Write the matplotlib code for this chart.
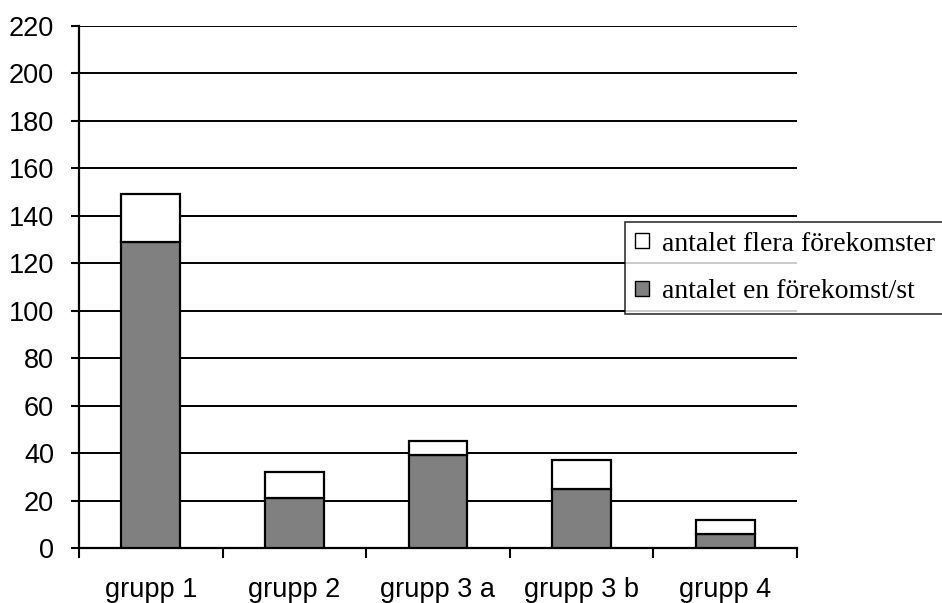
import matplotlib
matplotlib.use("Agg")
import matplotlib.pyplot as plt
from matplotlib.patches import Patch
from matplotlib.ticker import FixedLocator
import numpy as np

categories = ["grupp 1", "grupp 2", "grupp 3 a", "grupp 3 b", "grupp 4"]
en_forekomst = [129, 21, 39, 25, 6]
flera_forekomster = [20, 11, 6, 12, 6]
yticks = list(range(0, 221, 20))

fig = plt.figure(figsize=(9.42, 6.03), dpi=100)
W, H = 942, 603
ax = fig.add_axes([79 / W, 1 - 548 / H, (797 - 79) / W, (548 - 26) / H])

x = np.arange(len(categories))
bw = 0.41
ax.bar(x, en_forekomst, bw, color="#808080", edgecolor="black", linewidth=1.6, zorder=3)
ax.bar(x, flera_forekomster, bw, bottom=en_forekomst, color="white", edgecolor="black",
       linewidth=1.6, zorder=3)

ax.set_xlim(-0.5, len(categories) - 0.5)
ax.set_ylim(0, 220)
ax.set_yticks(yticks)
ax.set_xticks(x)
ax.set_xticklabels(categories, fontfamily="Liberation Sans", fontsize=19.5)
ax.xaxis.set_minor_locator(FixedLocator(np.arange(-0.5, len(categories), 1.0)))
ax.tick_params(axis="x", which="major", length=0, pad=21)
ax.tick_params(axis="x", which="minor", length=7, width=1.5, direction="out")
ax.tick_params(axis="y", length=6, width=1.5, direction="out", pad=12)
for lab in ax.get_yticklabels():
    lab.set_fontfamily("Liberation Sans")
    lab.set_fontsize(19.5)

ax.grid(axis="y", color="black", linewidth=1.4, zorder=0)
ax.set_axisbelow(True)
for s in ["top", "right"]:
    ax.spines[s].set_visible(False)
ax.spines["left"].set_linewidth(1.6)
ax.spines["bottom"].set_linewidth(1.6)

handles = [Patch(facecolor="white", edgecolor="black", linewidth=1.0, label="antalet flera förekomster"),
           Patch(facecolor="#808080", edgecolor="black", linewidth=1.0, label="antalet en förekomst/st")]
leg = fig.legend(handles=handles, loc="upper left", bbox_to_anchor=(625 / W, 1 - 222 / H),
                 prop={"family": "Liberation Serif", "size": 20}, frameon=True, fancybox=False,
                 edgecolor="black", handlelength=0.5, handleheight=0.45, handletextpad=0.5,
                 borderpad=0.35, labelspacing=0.8, borderaxespad=0)
leg.get_frame().set_linewidth(1.2)
leg.get_frame().set_facecolor("white")
leg.set_zorder(10)

fig.savefig("out.png", dpi=100)
